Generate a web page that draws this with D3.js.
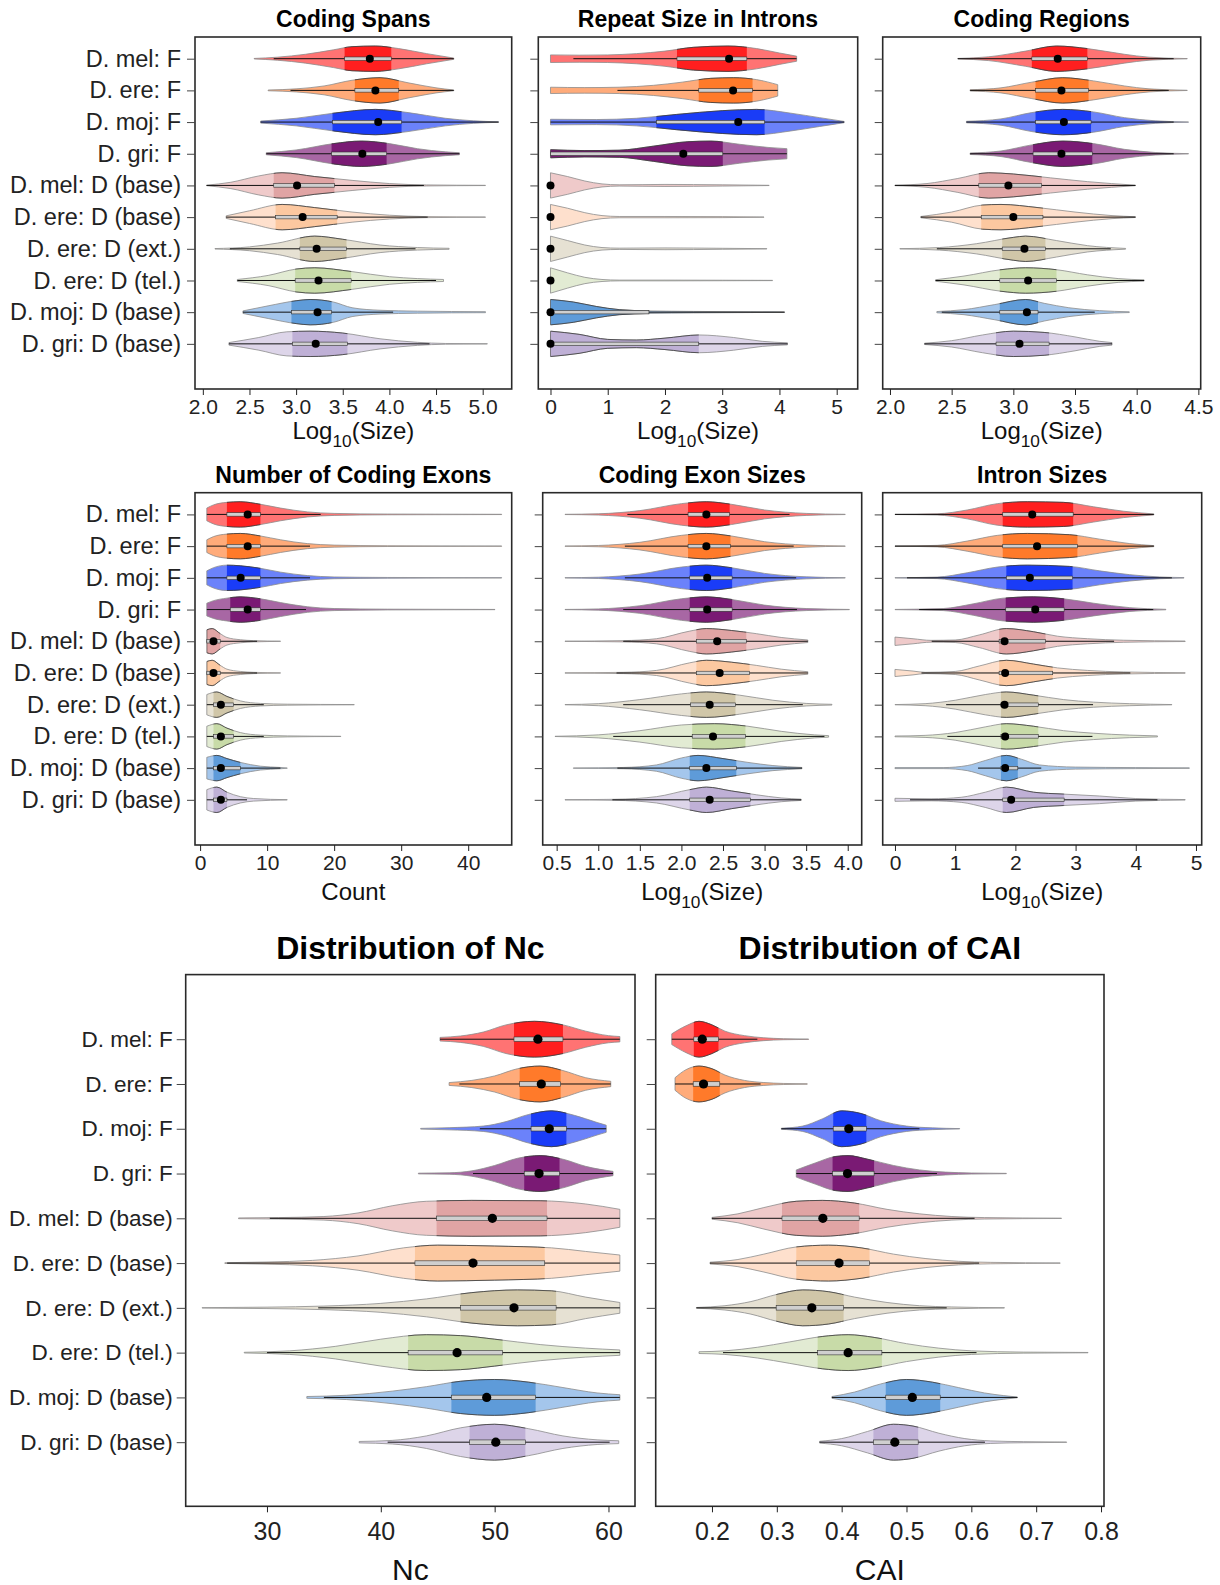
<!DOCTYPE html>
<html>
<head>
<meta charset="utf-8">
<script src="https://cdn.jsdelivr.net/npm/d3@7"></script>
<style>
body{margin:0;background:#fff;}
svg text{font-family:"Liberation Sans",Arial,Helvetica,sans-serif;}
</style>
</head>
<body>
<svg id="grafico" width="1220" height="1585"></svg>
<script>
/*categories, top to bottom*/
var categorias = ["D. mel: F", "D. ere: F", "D. moj: F", "D. gri: F", "D. mel: D (base)",
    "D. ere: D (base)", "D. ere: D (ext.)", "D. ere: D (tel.)", "D. moj: D (base)", "D. gri: D (base)"];

/*colours: whole violin and inter-quartile part*/
var cor_fora = ["#ff7373", "#ffab7a", "#6b82fa", "#a867a4", "#efcaca",
    "#fee0cd", "#e6e1d3", "#e2ebd3", "#a4c6ec", "#ddd5e9"];
var cor_iqr = ["#ff1f1f", "#ff7a2a", "#1a3cf7", "#7a1a74", "#e0a4a4",
    "#fcc8a0", "#d0c6a8", "#c8dba8", "#5e9bd9", "#bfb0d6"];

/*stats per violin: [whisker low, q1, median, q3, whisker high]*/
/*shape per violin: [value, relative half width] from min to max*/
var spans_stats = [[2.76,3.52,3.79,4.02,4.69],[2.94,3.63,3.85,4.10,4.69],[2.62,3.39,3.88,4.13,5.17],[2.68,3.38,3.71,3.97,4.75],
    [2.04,2.76,3.01,3.41,4.37],[2.25,2.78,3.07,3.44,4.41],[2.29,3.04,3.22,3.54,4.28],[2.37,2.99,3.24,3.59,4.50],
    [2.43,2.95,3.23,3.38,4.04],[2.28,2.96,3.21,3.55,4.43]];
var spans_shape = [
    [[2.55,0.02],[2.8,0.12],[3.1,0.35],[3.4,0.7],[3.6,0.95],[3.85,1],[4.1,0.8],[4.4,0.4],[4.69,0.05]],
    [[2.7,0.03],[3.0,0.12],[3.3,0.35],[3.6,0.8],[3.9,1],[4.2,0.6],[4.5,0.2],[4.69,0.03]],
    [[2.62,0.08],[3.0,0.3],[3.4,0.7],[3.85,1],[4.2,0.75],[4.6,0.3],[4.9,0.1],[5.17,0.02]],
    [[2.68,0.08],[3.0,0.3],[3.4,0.8],[3.7,1],[4.0,0.8],[4.3,0.4],[4.6,0.15],[4.75,0.08]],
    [[2.04,0.02],[2.3,0.25],[2.6,0.75],[2.85,1],[3.2,0.7],[3.6,0.4],[4.0,0.15],[4.4,0.04],[5.03,0.01]],
    [[2.25,0.1],[2.5,0.5],[2.85,1],[3.2,0.75],[3.6,0.4],[4.0,0.15],[4.4,0.04],[5.03,0.01]],
    [[2.13,0.02],[2.5,0.15],[2.8,0.45],[3.2,1],[3.5,0.75],[3.9,0.3],[4.3,0.1],[4.64,0.04]],
    [[2.37,0.08],[2.7,0.4],[3.0,0.9],[3.2,1],[3.6,0.7],[4.0,0.3],[4.3,0.15],[4.58,0.08]],
    [[2.43,0.1],[2.7,0.5],[3.0,0.9],[3.15,1],[3.4,0.8],[3.6,0.35],[3.9,0.15],[4.3,0.08],[5.03,0.04]],
    [[2.28,0.1],[2.6,0.5],[2.9,0.95],[3.15,1],[3.5,0.85],[3.9,0.4],[4.3,0.12],[4.6,0.03],[5.05,0.01]]];

var repeat_stats = [[0.40,2.21,3.12,3.43,4.30],[1.17,2.59,3.19,3.53,3.97],[0,1.85,3.28,3.74,5.13],[0,0,2.32,3.01,4.13],
    [0,0,0,0,0],[0,0,0,0,0],[0,0,0,0,0],[0,0,0,0,0],[0,0,0,1.72,4.09],[0,0,0,2.59,4.14]];
var repeat_shape = [
    [[0,0.3],[0.5,0.28],[1.0,0.3],[1.5,0.4],[2.0,0.6],[2.5,0.9],[3.1,1],[3.6,0.8],[4.0,0.45],[4.3,0.2]],
    [[0,0.25],[0.6,0.22],[1.2,0.25],[1.8,0.4],[2.3,0.65],[2.8,0.95],[3.2,1],[3.6,0.85],[3.97,0.45]],
    [[0,0.22],[0.8,0.2],[1.5,0.3],[2.2,0.6],[3.0,0.9],[3.6,1],[4.2,0.7],[4.7,0.35],[5.13,0.05]],
    [[0,0.32],[0.6,0.25],[1.2,0.28],[1.8,0.6],[2.4,0.95],[2.8,1],[3.3,0.75],[3.8,0.5],[4.13,0.4]],
    [[0,1],[0.3,0.7],[0.6,0.35],[0.9,0.12],[1.2,0.05],[2.0,0.08],[3.0,0.05],[3.82,0.01]],
    [[0,1],[0.3,0.7],[0.6,0.35],[0.9,0.12],[1.2,0.05],[2.0,0.05],[3.0,0.04],[3.73,0.01]],
    [[0,1],[0.3,0.65],[0.6,0.3],[0.9,0.1],[1.2,0.05],[2.0,0.07],[3.0,0.04],[3.78,0.01]],
    [[0,1],[0.3,0.6],[0.6,0.25],[0.9,0.08],[1.2,0.03],[2.0,0.03],[3.0,0.02],[3.88,0.01]],
    [[0,1],[0.4,0.8],[0.8,0.45],[1.2,0.2],[1.72,0.1],[2.5,0.06],[3.5,0.03],[4.09,0.01]],
    [[0,1],[0.5,0.75],[1.0,0.35],[1.5,0.3],[2.0,0.45],[2.6,0.7],[3.2,0.5],[3.7,0.2],[4.14,0.08]]];

var regions_stats = [[2.55,3.15,3.36,3.60,4.30],[2.65,3.18,3.39,3.61,4.26],[2.62,3.18,3.41,3.63,4.30],[2.65,3.16,3.39,3.64,4.30],
    [2.04,2.72,2.96,3.23,3.99],[2.25,2.74,3.00,3.24,3.99],[2.38,2.91,3.09,3.26,3.79],[2.37,2.89,3.12,3.35,4.06],
    [2.42,2.89,3.11,3.20,3.66],[2.28,2.86,3.05,3.29,3.80]];
var regions_shape = [
    [[2.55,0.02],[2.8,0.15],[3.1,0.6],[3.35,1],[3.6,0.8],[3.9,0.35],[4.1,0.12],[4.41,0.01]],
    [[2.65,0.05],[2.9,0.2],[3.15,0.65],[3.4,1],[3.65,0.75],[3.9,0.35],[4.1,0.12],[4.41,0.01]],
    [[2.62,0.06],[2.9,0.25],[3.15,0.75],[3.4,1],[3.65,0.8],[3.9,0.35],[4.15,0.1],[4.42,0.01]],
    [[2.65,0.06],[2.9,0.22],[3.15,0.7],[3.4,1],[3.65,0.8],[3.9,0.35],[4.15,0.1],[4.42,0.01]],
    [[2.04,0.02],[2.3,0.15],[2.55,0.55],[2.8,1],[3.0,0.9],[3.3,0.6],[3.6,0.3],[3.99,0.02]],
    [[2.25,0.05],[2.5,0.4],[2.75,0.95],[2.9,1],[3.2,0.75],[3.5,0.4],[3.8,0.12],[3.99,0.03]],
    [[2.08,0.01],[2.4,0.1],[2.7,0.4],[3.0,0.9],[3.1,1],[3.35,0.65],[3.6,0.25],[3.91,0.03]],
    [[2.37,0.06],[2.6,0.35],[2.9,0.85],[3.1,1],[3.35,0.85],[3.6,0.45],[3.85,0.15],[4.06,0.05]],
    [[2.38,0.05],[2.6,0.2],[2.85,0.6],[3.1,1],[3.25,0.7],[3.45,0.35],[3.7,0.12],[3.94,0.03]],
    [[2.28,0.05],[2.5,0.25],[2.75,0.7],[3.0,1],[3.25,0.9],[3.5,0.55],[3.7,0.2],[3.8,0.1]]];

var exons_stats = [[1,4,7.1,9,18],[1,4,7.1,9,16.4],[1,4,6.05,9,16.4],[1,4.5,7.1,9,15.8],
    [1,1,2,3,8.5],[1,1,2,3,8.5],[1,2,3.1,5,9.5],[1,2,3.1,5,9.5],[1,2,3.1,6,12],[1,2,3.1,4,7]];
var exons_shape = [
    [[1,0.5],[2,0.75],[4,0.95],[6,1],[9,0.8],[12,0.5],[16,0.2],[20,0.08],[28,0.03],[45,0.01]],
    [[1,0.5],[2,0.75],[4,0.95],[6,1],[9,0.8],[12,0.5],[16,0.2],[20,0.08],[28,0.03],[45,0.01]],
    [[1,0.55],[2,0.8],[4,1],[6,0.95],[9,0.75],[12,0.45],[16,0.18],[20,0.07],[28,0.03],[45,0.01]],
    [[1,0.5],[2,0.7],[4,0.9],[6,1],[9,0.85],[12,0.55],[16,0.22],[20,0.08],[28,0.03],[44,0.01]],
    [[1,0.9],[1.8,1],[3,0.6],[4,0.3],[6,0.12],[8,0.05],[12,0.01]],
    [[1,0.9],[1.8,1],[3,0.6],[4,0.3],[6,0.12],[8,0.05],[12,0.01]],
    [[1,0.8],[2.5,1],[4,0.65],[6,0.3],[9,0.1],[13,0.04],[23,0.01]],
    [[1,0.8],[2.5,1],[4,0.65],[6,0.3],[9,0.1],[13,0.04],[21,0.01]],
    [[1,0.85],[2.5,1],[4,0.75],[6,0.45],[9,0.15],[12,0.05],[13,0.01]],
    [[1,0.8],[2.5,1],[4,0.6],[6,0.25],[8,0.1],[13,0.01]]];

var exsize_stats = [[1.35,2.08,2.30,2.58,3.30],[1.32,2.08,2.30,2.59,3.35],[1.32,2.10,2.31,2.61,3.38],[1.30,2.10,2.31,2.61,3.39],
    [1.30,2.18,2.43,2.78,3.52],[1.22,2.18,2.46,2.82,3.52],[1.30,2.11,2.34,2.65,3.46],[1.18,2.13,2.38,2.77,3.72],
    [1.23,2.10,2.30,2.66,3.45],[1.17,2.10,2.34,2.83,3.44]];
var exsize_shape = [
    [[0.6,0.01],[1.0,0.05],[1.5,0.3],[2.0,0.85],[2.3,1],[2.6,0.8],[3.0,0.35],[3.5,0.08],[3.97,0.01]],
    [[0.6,0.01],[1.0,0.05],[1.5,0.3],[2.0,0.85],[2.3,1],[2.6,0.8],[3.0,0.35],[3.5,0.08],[3.97,0.01]],
    [[0.6,0.01],[1.0,0.05],[1.5,0.3],[2.0,0.85],[2.3,1],[2.6,0.8],[3.0,0.35],[3.5,0.08],[3.97,0.01]],
    [[0.6,0.01],[1.0,0.05],[1.5,0.3],[2.0,0.85],[2.3,1],[2.6,0.8],[3.0,0.35],[3.5,0.08],[4.02,0.01]],
    [[0.6,0.01],[1.3,0.05],[1.7,0.2],[2.1,0.8],[2.3,1],[2.6,0.85],[2.9,0.6],[3.2,0.3],[3.52,0.1]],
    [[0.6,0.01],[1.3,0.05],[1.7,0.2],[2.1,0.8],[2.3,1],[2.6,0.85],[2.9,0.6],[3.2,0.3],[3.52,0.1]],
    [[0.6,0.01],[1.0,0.08],[1.5,0.4],[2.0,0.85],[2.3,1],[2.7,0.75],[3.1,0.35],[3.5,0.1],[3.81,0.03]],
    [[0.48,0.01],[1.0,0.12],[1.5,0.45],[2.0,0.9],[2.4,1],[2.8,0.8],[3.2,0.4],[3.6,0.12],[3.77,0.06]],
    [[0.7,0.01],[1.3,0.05],[1.7,0.25],[2.0,0.8],[2.2,1],[2.5,0.75],[2.8,0.45],[3.1,0.2],[3.45,0.05]],
    [[0.6,0.01],[1.2,0.04],[1.7,0.25],[2.1,0.8],[2.3,1],[2.6,0.7],[2.9,0.4],[3.2,0.15],[3.44,0.05]]];

var intron_stats = [[0,1.79,2.28,2.96,4.30],[0,1.79,2.36,3.03,4.30],[0.2,1.85,2.24,2.95,4.60],[0.4,1.84,2.33,2.81,4.29],
    [0.61,1.73,1.82,2.50,3.64],[0.44,1.73,1.83,2.62,3.91],[0.85,1.76,1.82,2.38,3.29],[0.87,1.76,1.83,2.38,3.28],
    [1.38,1.76,1.83,2.04,2.43],[0.25,1.79,1.93,2.81,4.36]];
var intron_shape = [
    [[0,0.01],[0.7,0.05],[1.2,0.35],[1.7,0.85],[2.2,1],[2.8,0.95],[3.3,0.6],[3.8,0.25],[4.3,0.04]],
    [[0,0.01],[0.7,0.06],[1.2,0.4],[1.7,0.85],[2.2,1],[2.9,0.9],[3.4,0.55],[3.9,0.2],[4.3,0.04]],
    [[0,0.01],[0.7,0.06],[1.2,0.4],[1.7,0.85],[2.2,1],[2.9,0.9],[3.4,0.55],[3.9,0.25],[4.4,0.07],[4.8,0.02]],
    [[0,0.01],[0.8,0.08],[1.3,0.45],[1.8,0.9],[2.3,1],[2.8,0.85],[3.3,0.5],[3.9,0.15],[4.5,0.02]],
    [[0,0.33],[0.3,0.2],[0.6,0.07],[1.0,0.1],[1.4,0.5],[1.85,1],[2.3,0.75],[2.7,0.4],[3.2,0.2],[3.8,0.08],[4.82,0.02]],
    [[0,0.28],[0.3,0.15],[0.5,0.05],[1.0,0.12],[1.4,0.55],[1.85,1],[2.3,0.7],[2.7,0.4],[3.2,0.2],[3.8,0.08],[4.82,0.02]],
    [[0,0.01],[0.5,0.08],[1.0,0.35],[1.5,0.8],[1.85,1],[2.3,0.75],[2.8,0.4],[3.3,0.2],[3.9,0.08],[4.6,0.01]],
    [[0,0.03],[0.5,0.08],[1.0,0.3],[1.5,0.75],[1.85,1],[2.3,0.8],[2.8,0.45],[3.3,0.25],[3.9,0.1],[4.36,0.04]],
    [[0,0.04],[0.8,0.04],[1.2,0.2],[1.5,0.6],[1.85,1],[2.1,0.7],[2.4,0.25],[3.0,0.08],[4.0,0.04],[4.89,0.02]],
    [[0,0.12],[0.25,0.1],[0.6,0.08],[1.1,0.2],[1.5,0.6],[1.85,1],[2.3,0.6],[2.8,0.45],[3.4,0.3],[4.0,0.1],[4.82,0.02]]];

var nc_stats = [[45.2,51.7,53.8,56.0,61],[46.9,52.2,54.1,55.8,60.2],[48.7,53.2,54.8,56.3,59.8],[48.1,52.6,53.9,55.7,60.4],
    [30.25,44.9,49.8,54.6,61],[26.5,43.0,48.1,54.4,61],[34.5,47.0,51.7,55.4,61],[30,42.4,46.7,50.7,61],
    [35,46.2,49.3,53.6,61],[40.6,47.8,50.1,52.7,60.1]];
var nc_shape = [
    [[45.2,0.1],[47,0.18],[49,0.4],[51,0.8],[53.5,1],[56,0.8],[58,0.45],[60,0.2],[61,0.15]],
    [[46,0.08],[48,0.2],[50,0.45],[52,0.85],[54,1],[56,0.75],[58,0.35],[60.2,0.15]],
    [[43.5,0.02],[46,0.06],[49,0.15],[51,0.4],[53,0.8],[55,1],[57,0.75],[59,0.35],[59.8,0.2]],
    [[43.3,0.02],[46,0.04],[48,0.15],[50,0.45],[52,0.85],[54,1],[56,0.8],[58,0.4],[60.4,0.12]],
    [[27.5,0.02],[31,0.04],[35,0.1],[38,0.3],[41,0.7],[44,0.95],[48,1],[54,0.98],[58,0.8],[61,0.5]],
    [[26.3,0.02],[30,0.06],[34,0.15],[38,0.4],[42,0.85],[45,1],[50,0.95],[55,0.85],[58,0.65],[61,0.45]],
    [[24.3,0.01],[30,0.04],[35,0.1],[40,0.25],[44,0.5],[48,0.85],[52,1],[55,0.95],[58,0.6],[61,0.3]],
    [[28,0.02],[32,0.1],[36,0.35],[40,0.75],[44,1],[47,0.95],[50,0.75],[54,0.45],[58,0.25],[61,0.15]],
    [[33.5,0.05],[37,0.12],[41,0.35],[44,0.6],[47,0.9],[50,1],[53,0.85],[56,0.55],[59,0.25],[61,0.15]],
    [[38.1,0.04],[41,0.1],[44,0.35],[47,0.8],[50,1],[53,0.75],[56,0.35],[59,0.13],[60.9,0.08]]];

var cai_stats = [[0.138,0.172,0.185,0.210,0.27],[0.143,0.171,0.187,0.212,0.275],[0.307,0.387,0.411,0.438,0.52],[0.33,0.386,0.409,0.450,0.547],
    [0.20,0.308,0.371,0.427,0.605],[0.197,0.330,0.396,0.443,0.612],[0.176,0.299,0.354,0.403,0.562],[0.217,0.363,0.410,0.462,0.608],
    [0.385,0.468,0.509,0.552,0.671],[0.366,0.449,0.482,0.518,0.621]];
var cai_shape = [
    [[0.138,0.3],[0.16,0.75],[0.18,1],[0.2,0.8],[0.22,0.45],[0.25,0.2],[0.28,0.08],[0.31,0.03],[0.349,0.01]],
    [[0.143,0.35],[0.16,0.8],[0.18,1],[0.2,0.85],[0.22,0.5],[0.25,0.2],[0.28,0.08],[0.31,0.03],[0.347,0.01]],
    [[0.307,0.03],[0.34,0.15],[0.37,0.55],[0.4,1],[0.43,0.85],[0.46,0.45],[0.5,0.15],[0.54,0.05],[0.582,0.01]],
    [[0.33,0.2],[0.36,0.6],[0.39,0.95],[0.41,1],[0.44,0.8],[0.48,0.45],[0.52,0.2],[0.56,0.08],[0.6,0.03],[0.654,0.01]],
    [[0.2,0.05],[0.24,0.25],[0.28,0.6],[0.33,0.95],[0.37,1],[0.42,0.85],[0.47,0.5],[0.52,0.25],[0.57,0.1],[0.62,0.04],[0.739,0.01]],
    [[0.197,0.05],[0.24,0.2],[0.28,0.5],[0.33,0.9],[0.38,1],[0.43,0.85],[0.48,0.5],[0.53,0.25],[0.58,0.1],[0.63,0.04],[0.737,0.01]],
    [[0.176,0.02],[0.22,0.12],[0.26,0.35],[0.3,0.75],[0.34,1],[0.38,0.9],[0.42,0.6],[0.47,0.3],[0.52,0.12],[0.57,0.05],[0.651,0.01]],
    [[0.18,0.05],[0.22,0.1],[0.27,0.3],[0.32,0.6],[0.37,0.9],[0.41,1],[0.45,0.85],[0.5,0.5],[0.55,0.25],[0.6,0.1],[0.68,0.03],[0.78,0.01]],
    [[0.385,0.05],[0.42,0.3],[0.46,0.75],[0.5,1],[0.54,0.85],[0.58,0.55],[0.62,0.25],[0.65,0.1],[0.671,0.02]],
    [[0.366,0.05],[0.4,0.2],[0.44,0.6],[0.48,1],[0.51,0.9],[0.55,0.5],[0.59,0.2],[0.63,0.07],[0.68,0.03],[0.747,0.01]]];

/*tick values of each x axis*/
var ticks_spans = [2.0, 2.5, 3.0, 3.5, 4.0, 4.5, 5.0];
var ticks_repeat = [0, 1, 2, 3, 4, 5];
var ticks_regions = [2.0, 2.5, 3.0, 3.5, 4.0, 4.5];
var ticks_exons = [0, 10, 20, 30, 40];
var ticks_exsize = [0.5, 1.0, 1.5, 2.0, 2.5, 3.0, 3.5, 4.0];
var ticks_intron = [0, 1, 2, 3, 4, 5];
var ticks_nc = [30, 40, 50, 60];
var ticks_cai = [0.2, 0.3, 0.4, 0.5, 0.6, 0.7, 0.8];

/*text and mark sizes of the small panels and of the big ones*/
var estilo_peq = {rotulo: 23.5, tick: 21, titulo: 23, eixo: 24, ytick: 8, ypad: 6, xpad: 4, raio: 4, caixa: 3.5, sub: 8};
var estilo_gra = {rotulo: 22.5, tick: 25, titulo: 32, eixo: 30, ytick: 9, ypad: 4, xpad: 10, raio: 4.6, caixa: 4.5, sub: 9};

var paineis = [
    {id: "p1", titulo: "Coding Spans", eixo: "log", stats: spans_stats, shape: spans_shape, ticks: ticks_spans, fmt: ".1f",
     box: [195, 37, 511.7, 389], dom: [1.916, 5.311], rows: [-0.685, 10.425], nomes: true, est: estilo_peq, ty: 27, ey: 439},
    {id: "p2", titulo: "Repeat Size in Introns", eixo: "log", stats: repeat_stats, shape: repeat_shape, ticks: ticks_repeat, fmt: "d",
     box: [538.3, 37, 857.7, 389], dom: [-0.213, 5.367], rows: [-0.685, 10.425], nomes: false, est: estilo_peq, ty: 27, ey: 439},
    {id: "p3", titulo: "Coding Regions", eixo: "log", stats: regions_stats, shape: regions_shape, ticks: ticks_regions, fmt: ".1f",
     box: [882.7, 37, 1200.7, 389], dom: [1.941, 4.519], rows: [-0.685, 10.425], nomes: false, est: estilo_peq, ty: 27, ey: 439},
    {id: "p4", titulo: "Number of Coding Exons", eixo: "Count", stats: exons_stats, shape: exons_shape, ticks: ticks_exons, fmt: "d",
     box: [195, 492.7, 511.7, 845], dom: [-0.761, 46.49], rows: [-0.685, 10.425], nomes: true, est: estilo_peq, ty: 483, ey: 900},
    {id: "p5", titulo: "Coding Exon Sizes", eixo: "log", stats: exsize_stats, shape: exsize_shape, ticks: ticks_exsize, fmt: ".1f",
     box: [542.7, 492.7, 861.7, 845], dom: [0.332, 4.168], rows: [-0.685, 10.425], nomes: false, est: estilo_peq, ty: 483, ey: 900},
    {id: "p6", titulo: "Intron Sizes", eixo: "log", stats: intron_stats, shape: intron_shape, ticks: ticks_intron, fmt: "d",
     box: [882.7, 492.7, 1201.7, 845], dom: [-0.204, 5.095], rows: [-0.685, 10.425], nomes: false, est: estilo_peq, ty: 483, ey: 900},
    {id: "p7", titulo: "Distribution of Nc", eixo: "Nc", stats: nc_stats, shape: nc_shape, ticks: ticks_nc, fmt: "d",
     box: [185.7, 974.6, 635, 1506.3], dom: [22.86, 62.33], rows: [-1.443, 10.432], nomes: true, est: estilo_gra, ty: 959, ey: 1580},
    {id: "p8", titulo: "Distribution of CAI", eixo: "CAI", stats: cai_stats, shape: cai_shape, ticks: ticks_cai, fmt: ".1f",
     box: [655.7, 974.6, 1104, 1506.3], dom: [0.1132, 0.8046], rows: [-1.443, 10.432], nomes: false, est: estilo_gra, ty: 959, ey: 1580}
];

var fonte = "'Liberation Sans', Arial, Helvetica, sans-serif";
var svg = d3.select("#grafico");

/*Funcao que desenha um painel de violinos*/
function desenha_painel(p){
    var e = p.est;
    var g = svg.append("g").attr("class", "painel");
    var x = d3.scaleLinear().domain(p.dom).range([p.box[0], p.box[2]]);
    var y = d3.scaleLinear().domain(p.rows).range([p.box[1], p.box[3]]);
    var meia = 0.4 * (y(1) - y(0));

    var violinos = g.selectAll("g.violino").data(p.stats).enter().append("g").attr("class", "violino");

    violinos.each(function(s, i){
        var v = d3.select(this);
        var yc = y(i);
        var area = d3.area().curve(d3.curveMonotoneX)
            .x(function(d){ return x(d[0]); })
            .y0(function(d){ return yc - d[1] * meia; })
            .y1(function(d){ return yc + d[1] * meia; });
        v.append("path").attr("d", area(p.shape[i]))
            .attr("fill", cor_fora[i]).attr("stroke", "#8c8c8c").attr("stroke-width", 0.8);
        var id = "clip_" + p.id + "_" + i;
        v.append("clipPath").attr("id", id).append("rect")
            .attr("x", x(s[1])).attr("width", Math.max(0, x(s[3]) - x(s[1])))
            .attr("y", yc - meia - 2).attr("height", 2 * meia + 4);
        v.append("path").attr("d", area(p.shape[i])).attr("clip-path", "url(#" + id + ")")
            .attr("fill", cor_iqr[i]).attr("stroke", "#3a3a3a").attr("stroke-width", 0.8);
        // whiskers
        v.append("line").attr("x1", x(s[0])).attr("x2", x(s[4])).attr("y1", yc).attr("y2", yc)
            .attr("stroke", "#111").attr("stroke-width", 1);
        // inter-quartile box
        v.append("rect").attr("x", x(s[1])).attr("width", x(s[3]) - x(s[1]))
            .attr("y", yc - e.caixa / 2).attr("height", e.caixa)
            .attr("fill", "#cfcfcf").attr("stroke", "#333").attr("stroke-width", 0.6);
        // median
        v.append("circle").attr("cx", x(s[2])).attr("cy", yc).attr("r", e.raio).attr("fill", "#000");
    });

    // frame
    g.append("rect").attr("x", p.box[0]).attr("y", p.box[1])
        .attr("width", p.box[2] - p.box[0]).attr("height", p.box[3] - p.box[1])
        .attr("fill", "none").attr("stroke", "#2a2a2a").attr("stroke-width", 1.6);

    // x axis
    var eixo_x = d3.axisBottom(x).tickValues(p.ticks).tickFormat(d3.format(p.fmt))
        .tickSize(6).tickPadding(e.xpad);
    g.append("g").attr("transform", "translate(0," + p.box[3] + ")").call(eixo_x)
        .attr("font-size", e.tick).attr("font-family", fonte).attr("color", "#222")
        .call(function(a){ a.select(".domain").remove(); });

    // y axis
    var eixo_y = d3.axisLeft(y).tickValues(d3.range(categorias.length))
        .tickFormat(function(i){ return p.nomes ? categorias[i] : ""; })
        .tickSize(e.ytick).tickPadding(e.ypad);
    g.append("g").attr("transform", "translate(" + p.box[0] + ",0)").call(eixo_y)
        .attr("font-size", e.rotulo).attr("font-family", fonte).attr("color", "#222")
        .call(function(a){ a.select(".domain").remove(); a.selectAll("line").attr("stroke", "#444"); });

    // title
    var cx = (p.box[0] + p.box[2]) / 2;
    g.append("text").attr("x", cx).attr("y", p.ty).attr("text-anchor", "middle")
        .attr("font-size", e.titulo).attr("font-weight", "bold").attr("fill", "#000").text(p.titulo);

    // x axis title
    var t = g.append("text").attr("x", cx).attr("y", p.ey).attr("text-anchor", "middle")
        .attr("font-size", e.eixo).attr("fill", "#111");
    if (p.eixo == "log"){
        t.append("tspan").text("Log");
        t.append("tspan").attr("font-size", e.eixo * 0.72).attr("dy", e.sub).text("10");
        t.append("tspan").attr("dy", -e.sub).text("(Size)");
    } else {
        t.text(p.eixo);
    }
}

paineis.forEach(desenha_painel);
</script>
</body>
</html>
